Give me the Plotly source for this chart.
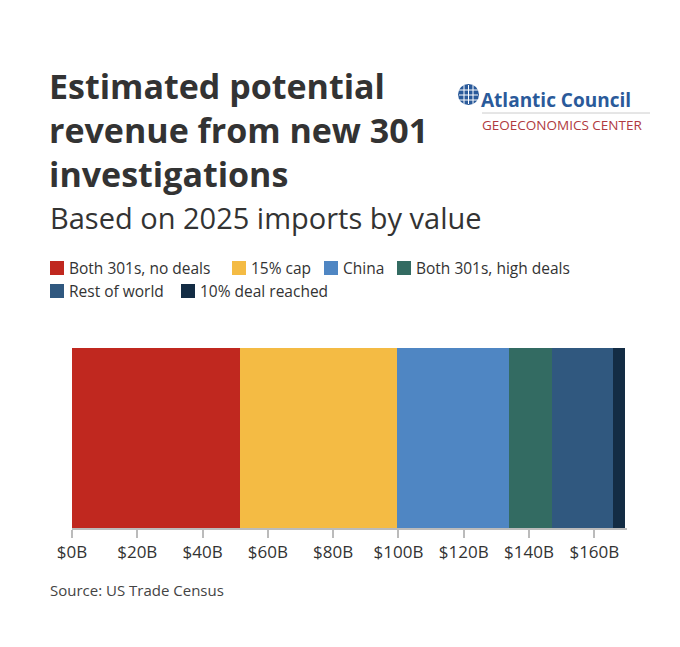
import plotly.graph_objects as go

categories = ["Both 301s, no deals", "15% cap", "China", "Both 301s, high deals", "Rest of world", "10% deal reached"]
values = [51.5, 47.9, 34.6, 12.9, 18.9, 3.6]
colors = ["#c0281f", "#f4bb44", "#4f86c3", "#336b62", "#30587f", "#132c44"]
tick_vals = [0, 20, 40, 60, 80, 100, 120, 140, 160]
tick_text = ["$%dB" % v for v in tick_vals]

F = "Open Sans"
OFF = 8
L, R, T, B = 64, 61, 340, 127
PW, PH = 680 - L - R, 647 - T - B
def px(x): return (x - OFF - L) / PW
def py(y): return (647 - B - (y - OFF)) / PH

fig = go.Figure()
for c, v, col in zip(categories, values, colors):
    fig.add_trace(go.Bar(x=[v], y=["Imports"], orientation="h", name=c, showlegend=False,
                         marker=dict(color=col, line=dict(width=0)), width=1))

fig.update_layout(
    barmode="stack", width=680, height=647, plot_bgcolor="white", paper_bgcolor="white",
    margin=dict(l=L, r=R, t=T, b=B, autoexpand=False),
    font=dict(family=F, color="#333"),
    xaxis=dict(range=[0, 170], tickvals=tick_vals, ticktext=tick_text, showgrid=False,
               showline=True, linecolor="#bbbbbb", linewidth=2, ticks="outside",
               tickcolor="#bbbbbb", ticklen=8, tickwidth=1.5,
               tickfont=dict(size=17, color="#333", family=F), zeroline=False),
    yaxis=dict(visible=False, range=[-0.5, 0.5]),
)

def ann(text, x, y, size, color="#333", xanchor="left"):
    fig.add_annotation(text=text, xref="paper", yref="paper", x=px(x), y=py(y),
                       xanchor=xanchor, yanchor="middle", align="left", showarrow=False,
                       font=dict(size=size, color=color, family=F))

ann("<b>Estimated potential<br>revenue from new 301<br>investigations</b>", 47, 130, 34)
ann("Based on 2025 imports by value", 48, 218, 29)
ann("Source: US Trade Census", 48, 590, 15, "#444")

# legend
legend_pos = [(50, 268), (232, 268), (324, 268), (397, 268), (50, 291), (181, 291)]
for (x, y), c, col in zip(legend_pos, categories, colors):
    fig.add_shape(type="rect", xref="paper", yref="paper", x0=px(x), x1=px(x + 14),
                  y0=py(y + 7), y1=py(y - 7), fillcolor=col, line=dict(width=0))
    ann(c, x + 17, y, 15.5, "#333")

# logo
fig.add_shape(type="circle", xref="paper", yref="paper", x0=px(458), x1=px(479),
              y0=py(105), y1=py(84), fillcolor="#2a5a9a", line=dict(width=0))
for yy in (90, 95, 100):
    fig.add_shape(type="line", xref="paper", yref="paper", x0=px(459), x1=px(478),
                  y0=py(yy), y1=py(yy), line=dict(color="white", width=1))
for xx in (464, 468.5, 473):
    fig.add_shape(type="line", xref="paper", yref="paper", x0=px(xx), x1=px(xx),
                  y0=py(85), y1=py(104), line=dict(color="white", width=1))
ann("<b>Atlantic Council</b>", 479, 100, 19, "#2a5a9a")
fig.add_shape(type="line", xref="paper", yref="paper", x0=px(482), x1=px(650),
              y0=py(113), y1=py(113), line=dict(color="#cccccc", width=1))
ann("GEOECONOMICS CENTER", 480, 125, 13.5, "#b03a40")

fig.write_html("out.html")
